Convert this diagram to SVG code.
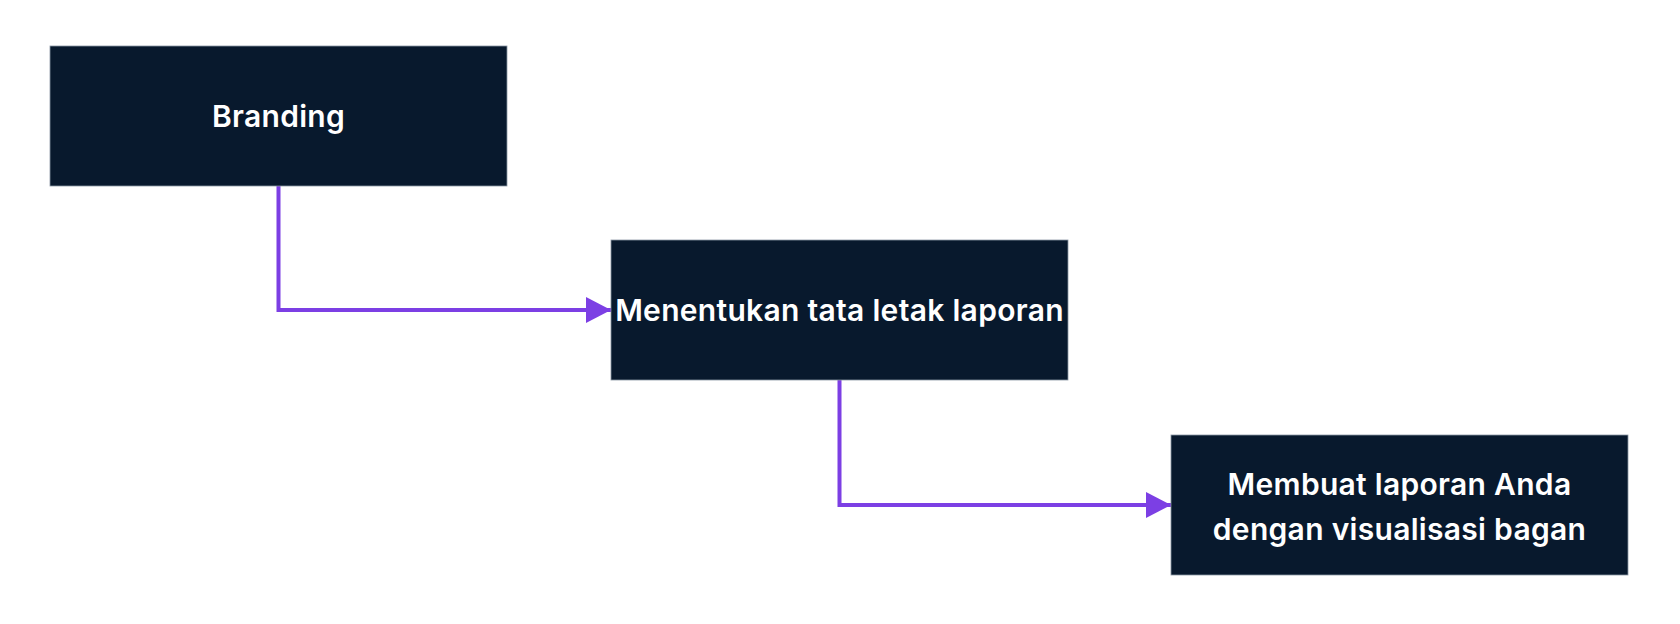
<svg xmlns="http://www.w3.org/2000/svg" width="1680" height="624" viewBox="0 0 1680 624">
<style>
.node rect{fill:#08192d;stroke:#8a96a4;stroke-width:0.8}
.node text{fill:#ffffff;font-family:Inter,"Open Sans","Liberation Sans",sans-serif;font-weight:600;font-size:30px;letter-spacing:0.3px;text-anchor:middle}
.conn{fill:none;stroke:#7c3fe4;stroke-width:4}
</style>
<defs>
<marker id="arr" markerUnits="userSpaceOnUse" markerWidth="26" markerHeight="28" refX="25" refY="13" orient="auto">
<path d="M0,0 L25,13 L0,26 Z" fill="#7c3fe4"/>
</marker>
</defs>
<rect width="1680" height="624" fill="#ffffff"/>
<g id="connectors">
<path class="conn" d="M278.5,186 V310 H611" marker-end="url(#arr)"/>
<path class="conn" d="M839.5,380 V505 H1171" marker-end="url(#arr)"/>
</g>
<g id="node-branding" class="node">
<rect x="50" y="46" width="457" height="140"/>
<text x="278.5" y="127">Branding</text>
</g>
<g id="node-menentukan" class="node">
<rect x="611" y="240" width="457" height="140"/>
<text x="839.5" y="321">Menentukan tata letak laporan</text>
</g>
<g id="node-membuat" class="node">
<rect x="1171" y="435" width="457" height="140"/>
<text x="1399.5" y="495">Membuat laporan Anda</text>
<text x="1399.5" y="540">dengan visualisasi bagan</text>
</g>
</svg>
